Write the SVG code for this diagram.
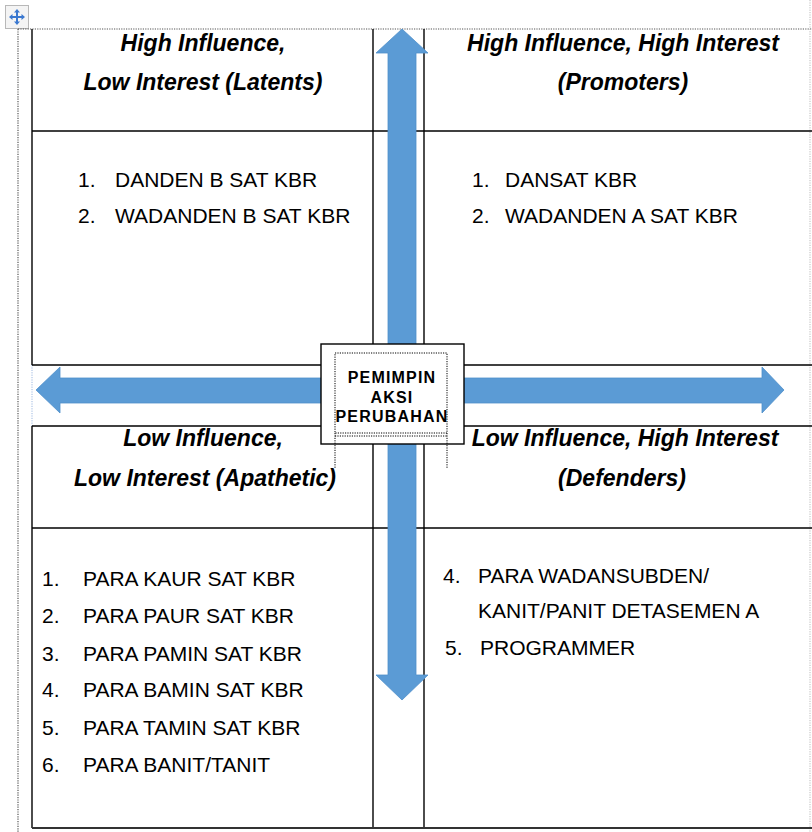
<svg xmlns="http://www.w3.org/2000/svg" width="812" height="832" viewBox="0 0 812 832">
<defs>
<style>
.grid{stroke:#000;stroke-width:1.4;fill:none}
.dot{stroke:#555;stroke-width:1.2;stroke-dasharray:1.2 1.2;fill:none}
.hdr{font-family:"Liberation Sans",Arial,sans-serif;font-size:23px;font-weight:bold;font-style:italic;fill:#000;text-anchor:middle}
.li{font-family:"Liberation Sans",Arial,sans-serif;font-size:21px;fill:#000}
.ctr{font-family:"Liberation Sans",Arial,sans-serif;font-size:16px;font-weight:bold;letter-spacing:1.2px;fill:#000;text-anchor:middle}
.arrow{fill:#5b9bd5;stroke:#4f8fca;stroke-width:0.8}
</style>
</defs>
<rect width="812" height="832" fill="#fff"/>
<!-- table move handle -->
<g id="handle">
<rect x="5.5" y="5.5" width="23" height="23" fill="#f4f4f4" stroke="#b8b8b8"/>
<path d="M17 9 L20 12.5 H18 V16 H21.5 V14 L25 17 L21.5 20 V18 H18 V21.5 H20 L17 25 L14 21.5 H16 V18 H12.5 V20 L9 17 L12.5 14 V16 H16 V12.5 H14 Z" fill="#3a78d0"/>
</g>
<!-- outer dotted borders -->
<g id="frame">
<line class="dot" x1="18" y1="29" x2="812" y2="29"/>
<line class="dot" x1="18" y1="29" x2="18" y2="832"/>
<line x1="810" y1="0" x2="810" y2="832" stroke="#bbb" stroke-width="1" stroke-dasharray="1.2 1.2"/>
<line x1="32" y1="365" x2="32" y2="426" stroke="#9db8e0" stroke-width="1" stroke-dasharray="1.2 1.2"/>
</g>
<!-- table grid -->
<g id="grid">
<line class="grid" x1="32" y1="29" x2="32" y2="365"/>
<line class="grid" x1="32" y1="426" x2="32" y2="828"/>
<line class="grid" x1="373" y1="29" x2="373" y2="828"/>
<line class="grid" x1="424" y1="29" x2="424" y2="828"/>
<line class="grid" x1="32" y1="131" x2="812" y2="131"/>
<line class="grid" x1="32" y1="365" x2="812" y2="365"/>
<line class="grid" x1="32" y1="426" x2="812" y2="426"/>
<line class="grid" x1="32" y1="528" x2="812" y2="528"/>
<line x1="32" y1="828" x2="812" y2="828" stroke="#333" stroke-width="2"/>
</g>
<!-- connectors: arrows -->
<g id="connectors">
<polygon class="arrow" points="402,29 428,53 416,53 416,675 428,675 402,700 376,675 388,675 388,53 376,53"/>
<polygon class="arrow" points="36,390 60,367 60,378 762,378 762,367 784,390 762,413 762,403 60,403 60,413"/>
</g>
<!-- quadrants -->
<g id="q1">
<text class="hdr" x="203" y="51">High Influence,</text>
<text class="hdr" x="203" y="90">Low Interest (Latents)</text>
<text class="li" x="78" y="187">1.</text>
<text class="li" x="115" y="187">DANDEN B SAT KBR</text>
<text class="li" x="78" y="223">2.</text>
<text class="li" x="115" y="223">WADANDEN B SAT KBR</text>
</g>
<g id="q2">
<text class="hdr" x="623" y="51">High Influence, High Interest</text>
<text class="hdr" x="623" y="90">(Promoters)</text>
<text class="li" x="472" y="187">1.</text>
<text class="li" x="505" y="187">DANSAT KBR</text>
<text class="li" x="472" y="223">2.</text>
<text class="li" x="505" y="223">WADANDEN A SAT KBR</text>
</g>
<g id="q3">
<text class="hdr" x="203" y="446">Low Influence,</text>
<text class="hdr" x="205" y="486">Low Interest (Apathetic)</text>
<text class="li" x="42" y="586">1.</text><text class="li" x="83" y="586">PARA KAUR SAT KBR</text>
<text class="li" x="42" y="623">2.</text><text class="li" x="83" y="623">PARA PAUR SAT KBR</text>
<text class="li" x="42" y="661">3.</text><text class="li" x="83" y="661">PARA PAMIN SAT KBR</text>
<text class="li" x="42" y="697">4.</text><text class="li" x="83" y="697">PARA BAMIN SAT KBR</text>
<text class="li" x="42" y="735">5.</text><text class="li" x="83" y="735">PARA TAMIN SAT KBR</text>
<text class="li" x="42" y="772">6.</text><text class="li" x="83" y="772">PARA BANIT/TANIT</text>
</g>
<g id="q4">
<text class="hdr" x="625" y="446">Low Influence, High Interest</text>
<text class="hdr" x="622" y="486">(Defenders)</text>
<text class="li" x="443" y="583">4.</text>
<text class="li" x="478" y="583">PARA WADANSUBDEN/</text>
<text class="li" x="478" y="618">KANIT/PANIT DETASEMEN A</text>
<text class="li" x="445" y="655">5.</text>
<text class="li" x="480" y="655">PROGRAMMER</text>
</g>
<!-- center box -->
<g id="center">
<rect x="321" y="344" width="143" height="100" fill="#fff" stroke="#000" stroke-width="1.4"/>
<rect x="335" y="353" width="112" height="80" fill="none" stroke="#000" stroke-width="1" stroke-dasharray="1.2 1.2"/>
<line x1="335" y1="436" x2="447" y2="436" stroke="#000" stroke-width="1" stroke-dasharray="1.2 1.2"/>
<line x1="335" y1="433" x2="335" y2="468" stroke="#000" stroke-width="1" stroke-dasharray="1.2 1.2"/>
<line x1="447" y1="433" x2="447" y2="468" stroke="#000" stroke-width="1" stroke-dasharray="1.2 1.2"/>
<text class="ctr" x="392" y="383">PEMIMPIN</text>
<text class="ctr" x="392" y="403">AKSI</text>
<text class="ctr" x="392" y="422">PERUBAHAN</text>
</g>
</svg>
